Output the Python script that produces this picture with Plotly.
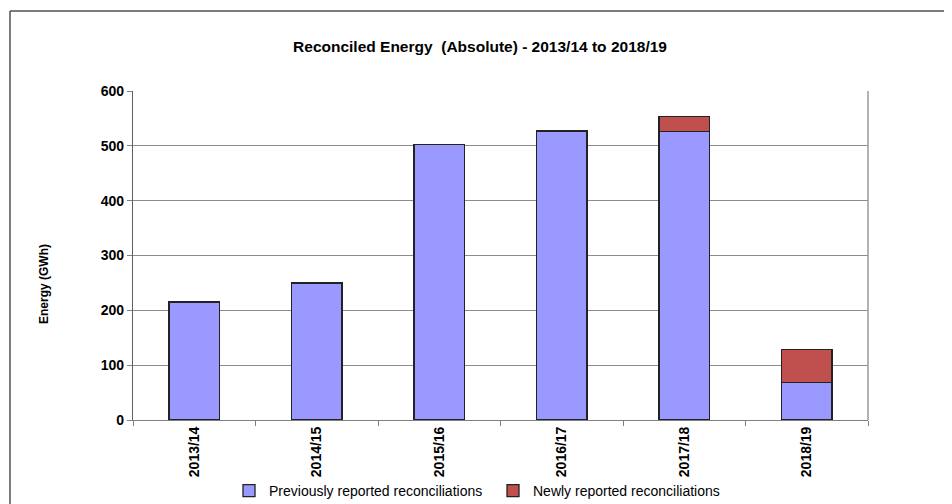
import plotly.graph_objects as go

categories = ["2013/14", "2014/15", "2015/16", "2016/17", "2017/18", "2018/19"]
previously_reported = [215, 250, 502, 526, 526, 69]
newly_reported = [0, 0, 0, 2, 27, 60]
y_ticks = [0, 100, 200, 300, 400, 500, 600]

# the page body adds an 8px offset; work in reference-pixel coordinates and shift
OFF = 8
W, H = 952 - OFF, 504 - OFF
PL, PR, PT, PB = 133, 868, 91, 420  # plot area in reference pixels
L, T = PL - OFF, PT - OFF
R, B = W - (PR - OFF), H - (PB - OFF)
pw, ph = W - L - R, H - T - B

def px_x(x):
    return (x - OFF - L) / pw

def px_y(y):
    return (H - B - (y - OFF)) / ph

font = "Liberation Sans, Arial, sans-serif"
outline = dict(color="#222222", width=1.3)

fig = go.Figure()
fig.add_trace(go.Bar(x=categories, y=previously_reported, name="Previously reported reconciliations",
                     marker=dict(color="#9999FF", line=outline), width=0.41))
fig.add_trace(go.Bar(x=categories, y=newly_reported, name="Newly reported reconciliations",
                     marker=dict(color="#C0504D", line=outline), width=0.41))

fig.update_layout(
    width=W, height=H, barmode="stack",
    margin=dict(l=L, r=R, t=T, b=B, autoexpand=False),
    paper_bgcolor="white", plot_bgcolor="white",
    font=dict(family=font, color="#000000", size=12),
    title=dict(text="<b>Reconciled Energy  (Absolute) - 2013/14 to 2018/19</b>",
               x=(480 - OFF) / W, xanchor="center",
               y=1 - (47 - OFF) / H, yanchor="middle", font=dict(size=15.5)),
    showlegend=True,
    legend=dict(orientation="h", x=px_x(229), xanchor="left", y=px_y(491), yanchor="middle",
                font=dict(size=14), traceorder="normal", itemwidth=30,
                entrywidth=219, entrywidthmode="pixels",
                bgcolor="rgba(0,0,0,0)"),
    bargap=0.59,
)
fig.update_xaxes(
    type="category", tickangle=-90, ticks="outside", tickson="boundaries", ticklen=5,
    tickcolor="#808080", showline=True, linecolor="#808080", linewidth=1,
    tickfont=dict(size=14, family=font, weight="bold"),
    showgrid=False, mirror=False,
)
fig.update_yaxes(
    range=[0, 600], tickvals=y_ticks, ticks="outside", ticklen=5, tickcolor="#808080",
    showline=True, linecolor="#606060", linewidth=1.2,
    showgrid=True, gridcolor="#8c8c8c", gridwidth=1,
    tickfont=dict(size=14, family=font, weight="bold"),
    zeroline=False,
)
fig.add_annotation(text="<b>Energy (GWh)</b>", textangle=-90, xref="paper", yref="paper",
                   x=px_x(44), y=px_y(284), xanchor="center", yanchor="middle",
                   showarrow=False, font=dict(size=12, family=font))
# plot area right border
fig.add_shape(type="line", xref="paper", yref="paper", x0=1, x1=1, y0=0, y1=1,
              line=dict(color="#9a9a9a", width=1.5))
# outer chart border (top and left edges; the rest lies outside the picture)
fig.add_shape(type="line", xref="paper", yref="paper",
              x0=px_x(10), x1=px_x(952 + 20), y0=px_y(11), y1=px_y(11),
              line=dict(color="#505050", width=1.5), layer="below")
fig.add_shape(type="line", xref="paper", yref="paper",
              x0=px_x(10), x1=px_x(10), y0=px_y(11), y1=px_y(504 + 20),
              line=dict(color="#505050", width=1.5), layer="below")

fig.write_html("out.html")
